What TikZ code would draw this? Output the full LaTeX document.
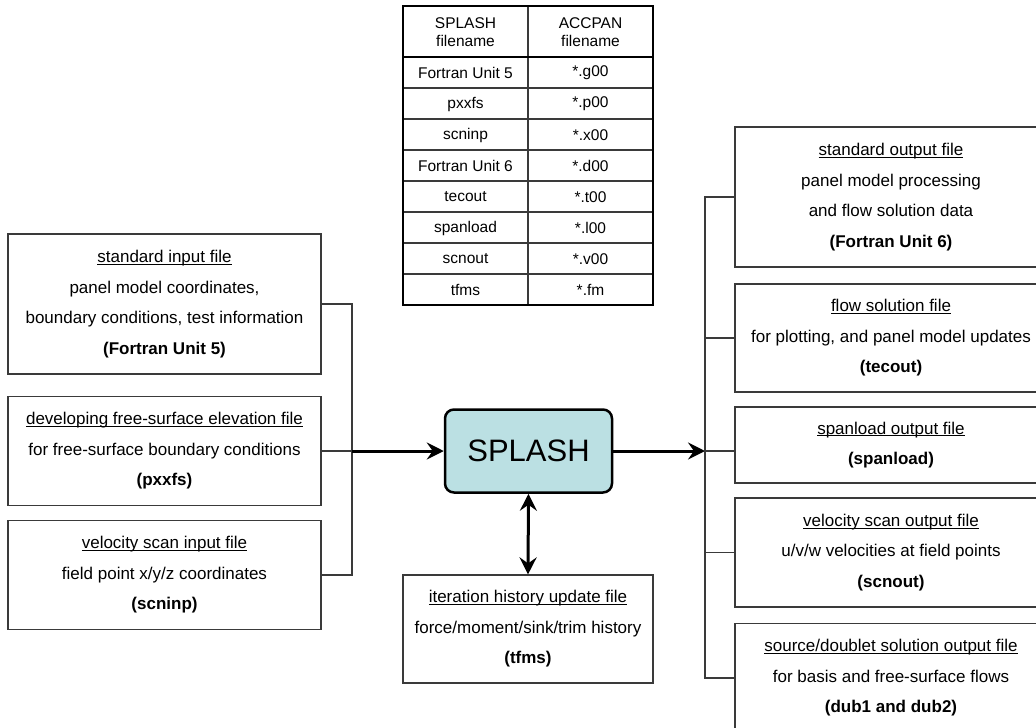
\documentclass[tikz,border=0pt]{standalone}
\usepackage{fontspec}
\setmainfont{Liberation Sans}
\usetikzlibrary{arrows.meta}
\definecolor{splashfill}{HTML}{BBE0E3}
\definecolor{edgegray}{HTML}{3A3A3A}
% underline that sits just under the baseline
\newcommand{\undertitle}[1]{\setbox0\hbox{#1}\rlap{\rule[-2.2pt]{\wd0}{1pt}}\box0}

\begin{document}
\begin{tikzpicture}[x=1pt, y=-1pt,
  >={Stealth[length=17pt, width=17pt, inset=6pt]},
  filebox/.style={draw=edgegray, line width=1.2pt, align=center, inner sep=0pt,
    font=\fontsize{17}{30.5}\selectfont, minimum width=313pt},
  cell/.style={font=\fontsize{15.5}{18}\selectfont, align=center, inner sep=0pt},
  bus/.style={edgegray, line width=1.2pt},
  flow/.style={line width=3pt}]

\useasboundingbox (0,0) rectangle (1036,728);
\clip (0,0) rectangle (1036,728);

% --- Filename table ---
\draw[edgegray, line width=1.2pt] (528,6) -- (528,305);
\foreach \y in {88,119,...,274} {
  \draw[edgegray, line width=1.2pt] (403,\y) -- (653,\y);
}
\draw[line width=2pt] (403,57) -- (653,57);
\draw[line width=2.5pt] (403,6) rectangle (653,305);
\node[cell] (hsplash) at (465.5,32) {SPLASH\\filename};
\node[cell] (haccpan) at (590.5,32) {ACCPAN\\filename};
\foreach \splash/\accpan [count=\i] in {Fortran Unit 5/*.g00, pxxfs/*.p00,
    scninp/*.x00, Fortran Unit 6/*.d00, tecout/*.t00, spanload/*.l00,
    scnout/*.v00, tfms/*.fm} {
  \node[cell] (s\i) at (465.5,{42+31*\i}) {\splash};
  \node[cell] (a\i) at (590.5,{42+31*\i}) {\accpan};
}

% --- Program ---
\node[draw, line width=2.5pt, fill=splashfill, rounded corners=9pt,
      minimum width=167pt, minimum height=83pt,
      font=\fontsize{31}{36}\selectfont] (splash) at (528.5,451) {SPLASH};

% --- Input files ---
\node[filebox, minimum height=140pt] (stdin) at (164.5,304)
  {\undertitle{standard input file}\\panel model coordinates,\\
   boundary conditions, test information\\\textbf{(Fortran Unit 5)}};
\node[filebox, minimum height=109pt] (pxxfs) at (164.5,451)
  {\undertitle{developing free-surface elevation file}\\
   for free-surface boundary conditions\\\textbf{(pxxfs)}};
\node[filebox, minimum height=109pt] (scninp) at (164.5,575)
  {\undertitle{velocity scan input file}\\field point x/y/z coordinates\\
   \textbf{(scninp)}};

\coordinate (busL) at (352,451);
\draw[bus] (stdin.east) -| (busL |- scninp.east) -- (scninp.east);
\draw[bus] (pxxfs.east) -- (busL);
\draw[flow, ->] (busL) -- (splash.west);

% --- Iteration history ---
\node[filebox, minimum width=250pt, minimum height=108pt] (tfms) at (528,629)
  {\undertitle{iteration history update file}\\
   force/moment/sink/trim history\\\textbf{(tfms)}};
\draw[flow, <->] (splash.south) -- (tfms.north);

% --- Output files ---
\node[filebox, minimum width=312pt, minimum height=140pt] (stdout) at (891,197)
  {\undertitle{standard output file}\\panel model processing\\
   and flow solution data\\\textbf{(Fortran Unit 6)}};
\node[filebox, minimum width=312pt, minimum height=108pt] (tecout) at (891,338)
  {\undertitle{flow solution file}\\for plotting, and panel model updates\\
   \textbf{(tecout)}};
\node[filebox, minimum width=312pt, minimum height=76pt] (spanload) at (891,445)
  {\undertitle{spanload output file}\\\textbf{(spanload)}};
\node[filebox, minimum width=312pt, minimum height=109pt] (scnout) at (891,552.5)
  {\undertitle{velocity scan output file}\\u/v/w velocities at field points\\
   \textbf{(scnout)}};
\node[filebox, minimum width=312pt, minimum height=109pt] (dub) at (891,678)
  {\undertitle{source/doublet solution output file}\\
   for basis and free-surface flows\\\textbf{(dub1 and dub2)}};

\coordinate (busR) at (705,451);
\draw[flow, ->] (splash.east) -- (busR);
\draw[bus] (stdout.west) -| (busR |- dub.west) -- (dub.west);
\draw[bus] (busR |- tecout.west) -- (tecout.west);
\draw[bus] (busR) -- (busR -| spanload.west);
\draw[bus] (busR |- scnout.west) -- (scnout.west);

\end{tikzpicture}
\end{document}
